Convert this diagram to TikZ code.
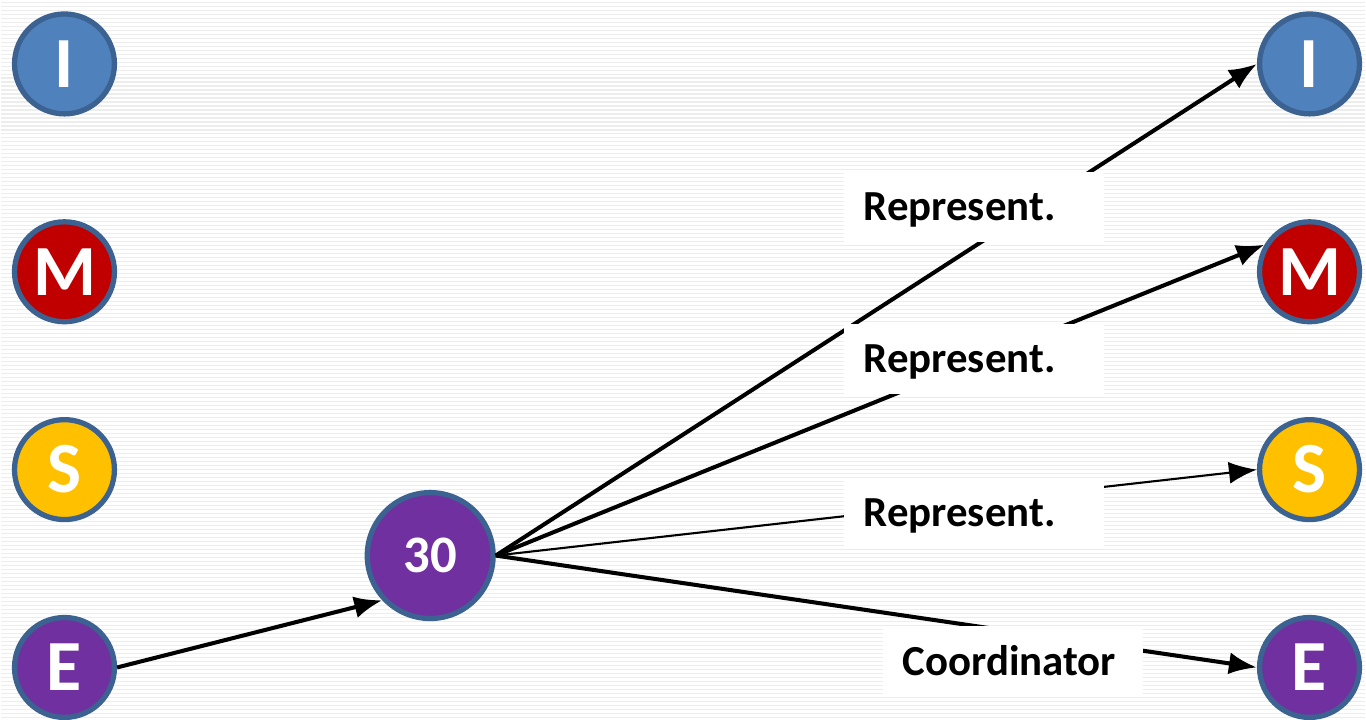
\documentclass[tikz,border=0pt]{standalone}
\usepackage{fontspec}
\setmainfont{Carlito}
\usepackage{xcolor}
\usepackage{tikz}
\usetikzlibrary{positioning,arrows.meta}
\definecolor{ringblue}{HTML}{3B6290}
\definecolor{infoblue}{HTML}{4F81BD}
\definecolor{mgmtred}{HTML}{C00000}
\definecolor{staffgold}{HTML}{FFC000}
\definecolor{execpurple}{HTML}{7030A0}
\definecolor{stripe}{HTML}{EDEDED}
\tikzset{
  every node/.style={font=\bfseries},
  role/.style={
    circle, draw=ringblue, line width=1.5pt,
    minimum size=1.0cm, inner sep=0pt,
    text=white, font=\fontsize{20.5}{22}\selectfont\bfseries
  },
  hub/.style={
    role, minimum size=1.26cm,
    font=\fontsize{15}{16}\selectfont\bfseries
  },
  tag/.style={
    rectangle, fill=white, anchor=west,
    text width=2.21cm, inner xsep=0.2cm,
    minimum height=0.7cm, align=left, text depth=0pt,
    font=\fontsize{12.2}{14}\selectfont\bfseries
  },
  link/.style={
    -{Latex[length=2.8mm,width=2.2mm]},
    line width=1.15pt, draw=black
  },
  thinlink/.style={
    link, line width=0.6pt
  },
}
\begin{document}
\begin{tikzpicture}
  % striped backdrop
  \fill[white] (0,0) rectangle (13.66,7.2);
  \foreach \y in {0.02,0.06,...,7.2}
    \draw[stripe, line width=0.3pt] (0,\y) -- (13.66,\y);
  \useasboundingbox (0,0) rectangle (13.66,7.2);

  % the two columns of roles
  \foreach \n/\t/\c/\y in {i/I/infoblue/6.56, m/M/mgmtred/4.48, s/S/staffgold/2.50, e/E/execpurple/0.52} {
    \node[role, fill=\c] (\n1) at (0.64,\y) {\t};
    \node[role, fill=\c] (\n2) at (13.10,\y) {\t};
  }
  \node[hub, fill=execpurple] (hub) at (4.30,1.64) {30};

  % links
  \draw[link] (e1.east) -- (hub.223);
  \draw[link] (hub.east) -- (i2.west);
  \draw[link] (hub.east) -- (m2.149);
  \draw[thinlink] (hub.east) -- (s2.west);
  \draw[link] (hub.east) -- (e2.west);

  % labels on the links
  \node[tag] (rep1) at (8.43,5.13) {Represent.};
  \node[tag] (rep2) at (8.43,3.61) {Represent.};
  \node[tag] (rep3) at (8.43,2.07) {Represent.};
  \node[tag] (coord) at (8.82,0.59) {Coordinator};
\end{tikzpicture}
\end{document}
